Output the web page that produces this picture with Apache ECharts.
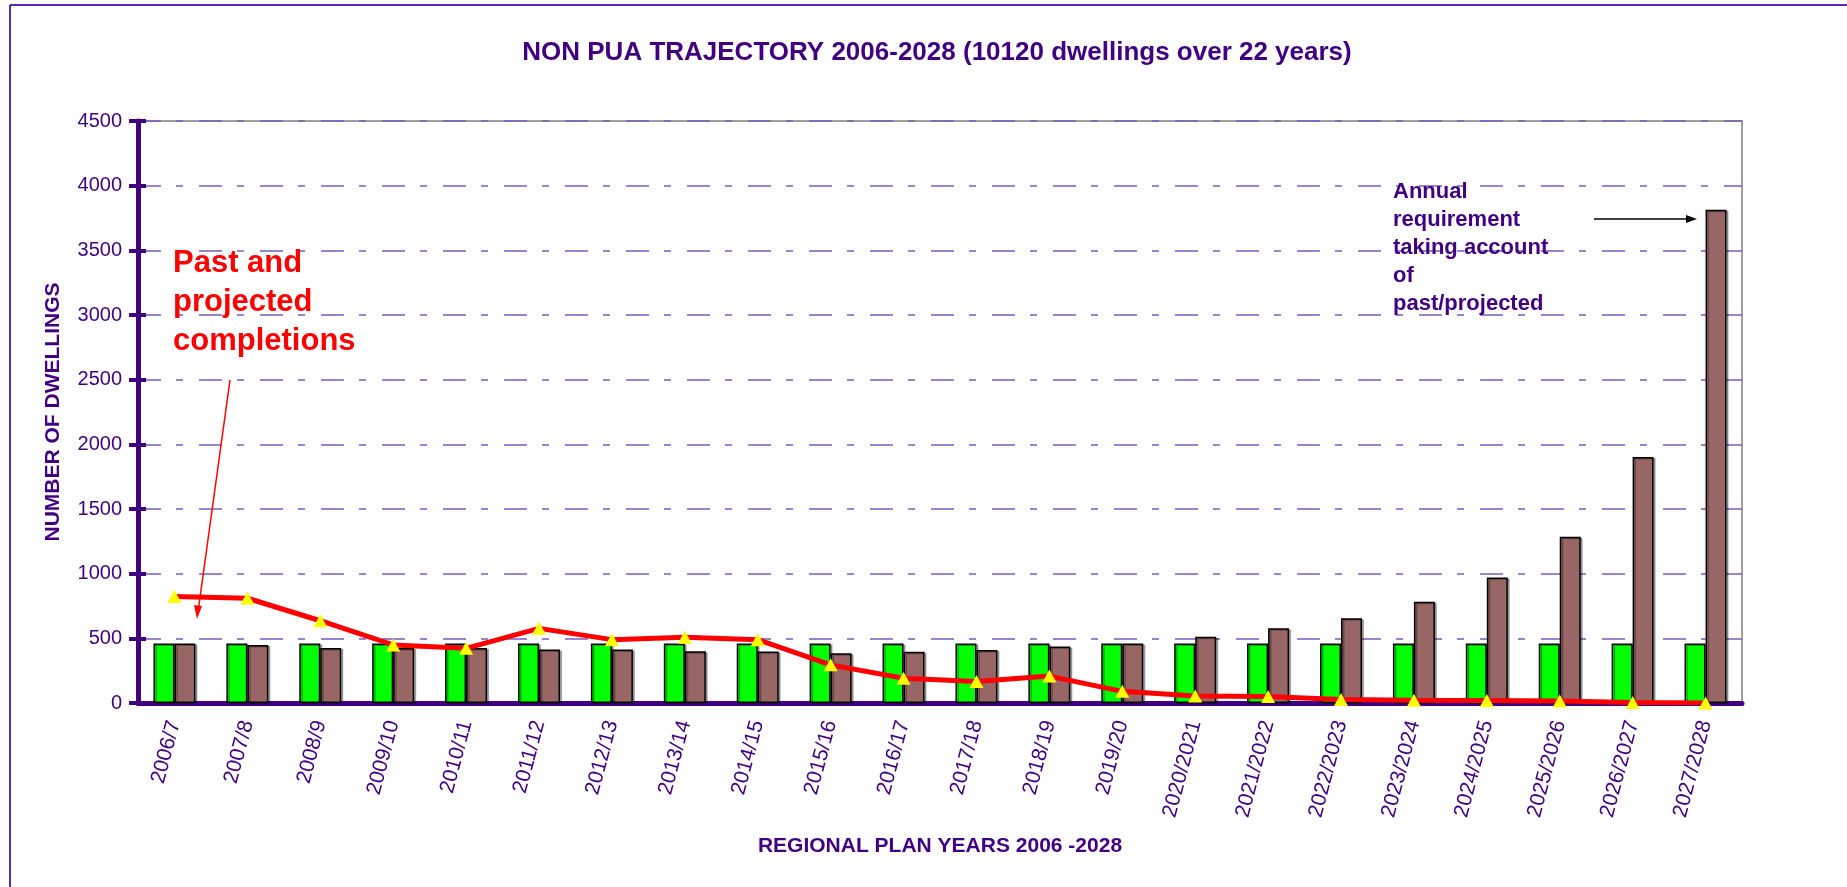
<!DOCTYPE html>
<html>
<head>
<meta charset="utf-8">
<title>NON PUA TRAJECTORY 2006-2028</title>
<script src="https://cdn.jsdelivr.net/npm/echarts@6/dist/echarts.min.js"></script>
<style>
  html, body { margin: 0; padding: 0; background: #fff; }
  #chart { width: 1847px; height: 887px; }
</style>
</head>
<body>
<div id="chart"></div>
<script>
// 年份
const years = ['2006/7', '2007/8', '2008/9', '2009/10', '2010/11', '2011/12', '2012/13', '2013/14',
  '2014/15', '2015/16', '2016/17', '2017/18', '2018/19', '2019/20', '2020/2021', '2021/2022',
  '2022/2023', '2023/2024', '2024/2025', '2025/2026', '2026/2027', '2027/2028'];

// 平均年需求 (10120 / 22)
const averageRequirement = [460, 460, 460, 460, 460, 460, 460, 460, 460, 460, 460,
  460, 460, 460, 460, 460, 460, 460, 460, 460, 460, 460];

// 考虑过去/预计完成后的年需求
const annualRequirement = [460, 449, 426, 426, 426, 413, 413, 400, 398, 385, 397,
  410, 436, 460, 513, 578, 655, 783, 970, 1286, 1903, 3814];

// 过去和预计完成量
const completions = [823, 810, 636, 449, 423, 577, 490, 508, 490, 295, 192,
  167, 208, 90, 55, 50, 27, 22, 20, 15, 3, 0];

// y 轴刻度
const yMin = 0;
const yMax = 4500;
const yStep = 500;

const purple = '#400080';
const font = "'Liberation Sans', Arial, sans-serif";

const chart = echarts.init(document.getElementById('chart'));

const barShadow = {
  shadowColor: 'rgba(0, 0, 0, 0.3)',
  shadowOffsetX: 2,
  shadowOffsetY: 1,
  shadowBlur: 0
};

const option = {
  animation: false,
  backgroundColor: '#fff',
  textStyle: { fontFamily: font },
  title: {
    text: 'NON PUA TRAJECTORY 2006-2028 (10120 dwellings over 22 years)',
    left: 932,
    top: 35,
    textAlign: 'center',
    textStyle: { color: purple, fontSize: 26, fontWeight: 'bold', fontFamily: font }
  },
  grid: {
    left: 138,
    right: 105,
    top: 121,
    bottom: 184,
    show: true,
    borderColor: '#808080',
    borderWidth: 1.5,
    containLabel: false,
    outerBoundsMode: 'none'
  },
  xAxis: [
    {
      type: 'category',
      data: years,
      name: 'REGIONAL PLAN YEARS 2006 -2028',
      nameLocation: 'middle',
      nameGap: 133,
      nameTextStyle: { color: purple, fontSize: 21, fontWeight: 'bold', fontFamily: font },
      axisLine: { lineStyle: { color: purple, width: 5 } },
      axisTick: { length: 9, lineStyle: { color: purple, width: 4 } },
      axisLabel: {
        interval: 0,
        rotate: 75,
        margin: 18,
        color: purple,
        fontSize: 21,
        fontFamily: font
      },
      z: 1
    },
    {
      // 内侧刻度 (十字刻度)
      type: 'category',
      data: years,
      position: 'bottom',
      axisLine: { show: false },
      axisTick: { inside: true, length: 8, lineStyle: { color: purple, width: 4 } },
      axisLabel: { show: false },
      splitLine: { show: false }
    }
  ],
  yAxis: [
    {
      type: 'value',
      min: yMin,
      max: yMax,
      interval: yStep,
      name: 'NUMBER OF DWELLINGS',
      nameLocation: 'middle',
      nameGap: 74,
      nameTextStyle: { color: purple, fontSize: 21, fontWeight: 'bold', fontFamily: font },
      axisLine: { show: true, lineStyle: { color: purple, width: 5 } },
      axisTick: { show: true, length: 9, lineStyle: { color: purple, width: 4 } },
      axisLabel: {
        color: purple,
        fontSize: 20,
        margin: 16,
        fontFamily: font,
        formatter: (v) => String(v)
      },
      splitLine: {
        show: true,
        lineStyle: { color: '#7a5cc0', width: 1.5, type: [23, 15, 7, 16] }
      }
    },
    {
      type: 'value',
      min: yMin,
      max: yMax,
      interval: yStep,
      position: 'left',
      axisLine: { show: false },
      axisTick: { show: true, inside: true, length: 8, lineStyle: { color: purple, width: 4 } },
      axisLabel: { show: false },
      splitLine: { show: false }
    }
  ],
  series: [
    {
      name: 'Average requirement',
      type: 'bar',
      data: averageRequirement,
      barWidth: 21,
      barGap: '0%',
      itemStyle: Object.assign({ color: '#00ff00', borderColor: '#000', borderWidth: 1.5 }, barShadow)
    },
    {
      name: 'Annual requirement',
      type: 'bar',
      data: annualRequirement,
      barWidth: 21,
      barGap: '0%',
      itemStyle: Object.assign({ color: '#996666', borderColor: '#000', borderWidth: 1.5 }, barShadow)
    },
    {
      name: 'Completions',
      type: 'line',
      data: completions,
      symbol: 'triangle',
      symbolSize: [14, 13],
      lineStyle: { color: '#ff0000', width: 5 },
      itemStyle: { color: '#ffff00', borderWidth: 0 },
      z: 5
    }
  ],
  graphic: [
    // 外框
    { type: 'line', shape: { x1: 10, y1: 5, x2: 1847, y2: 5 }, style: { stroke: '#5a2aa8', lineWidth: 2 }, silent: true },
    { type: 'line', shape: { x1: 10, y1: 5, x2: 10, y2: 887 }, style: { stroke: '#5a2aa8', lineWidth: 2 }, silent: true },
    // 红色注释
    {
      type: 'text',
      left: 173,
      top: 244,
      z: 10,
      style: {
        text: 'Past and\nprojected\ncompletions',
        fill: '#ff0000',
        font: 'bold 31px ' + font,
        lineHeight: 39
      }
    },
    {
      type: 'line',
      z: 10,
      shape: { x1: 230, y1: 380, x2: 198, y2: 612 },
      style: { stroke: '#ff0000', lineWidth: 1.5 }
    },
    {
      type: 'polygon',
      z: 10,
      shape: { points: [[197, 619], [194, 605], [202, 606]] },
      style: { fill: '#ff0000' }
    },
    // 紫色注释
    {
      type: 'text',
      left: 1393,
      top: 178,
      z: 10,
      style: {
        text: 'Annual\nrequirement\ntaking account\nof\npast/projected',
        fill: purple,
        font: 'bold 22px ' + font,
        lineHeight: 28
      }
    },
    {
      type: 'line',
      z: 10,
      shape: { x1: 1594, y1: 219, x2: 1688, y2: 219 },
      style: { stroke: '#000', lineWidth: 1.5 }
    },
    {
      type: 'polygon',
      z: 10,
      shape: { points: [[1697, 219], [1686, 215], [1686, 223]] },
      style: { fill: '#000' }
    }
  ]
};

chart.setOption(option);

window.addEventListener('resize', () => {
  chart.resize();
});
</script>
</body>
</html>
